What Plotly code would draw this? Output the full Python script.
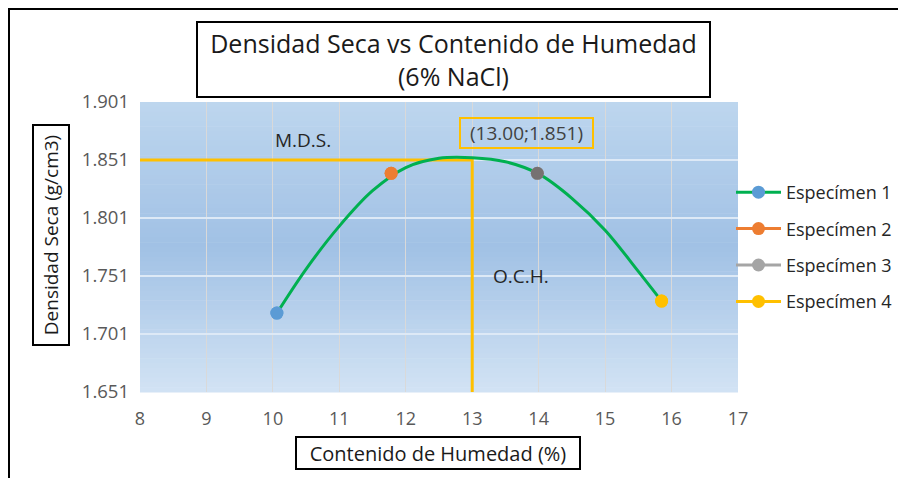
import plotly.graph_objects as go

# ---- data ----
specimen_names = ["Especímen 1", "Especímen 2", "Especímen 3", "Especímen 4"]
specimen_x = [10.06, 11.78, 13.98, 15.85]
specimen_y = [1.719, 1.8395, 1.8395, 1.7294]
specimen_colors = ["#5b9bd5", "#ed7d31", "#767171", "#ffc000"]
legend_marker_colors = ["#5b9bd5", "#ed7d31", "#a5a5a5", "#ffc000"]
legend_line_colors = ["#00b050", "#ed7d31", "#a5a5a5", "#ffc000"]

curve_x = [10.06, 10.5, 11.0, 11.5, 12.0, 12.5, 13.0, 13.5, 14.0, 14.5, 15.0, 15.5, 15.85]
curve_y = [1.719, 1.757, 1.794, 1.8245, 1.8445, 1.8525, 1.853, 1.8495, 1.839, 1.818, 1.7905, 1.755, 1.7294]

mds_x = [8, 13.0, 13.0]
mds_y = [1.851, 1.851, 1.651]

x_ticks = [8, 9, 10, 11, 12, 13, 14, 15, 16, 17]
y_ticks = [1.651, 1.701, 1.751, 1.801, 1.851, 1.901]
y_ticklabels = ["1.651", "1.701", "1.751", "1.801", "1.851", "1.901"]

FONT = "Open Sans"
W, H = 898, 478
L, R, T, B = 140, 160, 102, 86
PW, PH = W - L - R, H - T - B


def px(x):
    return (x - L) / PW


def py(y):
    return (H - B - y) / PH


fig = go.Figure()

# yellow M.D.S. / O.C.H. guide lines
fig.add_trace(go.Scatter(x=mds_x, y=mds_y, mode="lines",
                         line=dict(color="#ffc000", width=3),
                         showlegend=False, hoverinfo="skip"))

# smooth green curve
fig.add_trace(go.Scatter(x=curve_x, y=curve_y, mode="lines", line_shape="spline",
                         line=dict(color="#00b050", width=3),
                         showlegend=False, hoverinfo="skip"))

# specimen markers (one trace each, legend shows line + marker)
for i, name in enumerate(specimen_names):
    fig.add_trace(go.Scatter(
        x=[specimen_x[i]], y=[specimen_y[i]], mode="lines+markers", name=name,
        legendgroup=name,
        marker=dict(color=legend_marker_colors[i], size=13),
        line=dict(color=legend_line_colors[i], width=3),
        showlegend=True))
fig.add_trace(go.Scatter(x=specimen_x, y=specimen_y, mode="markers",
                         marker=dict(color=specimen_colors, size=13),
                         showlegend=False, hoverinfo="skip"))

# gradient background of plot area
shapes = []
top = (0xbd, 0xd6, 0xee)
mid = (0xa1, 0xc1, 0xe5)
bot = (0xd2, 0xe3, 0xf4)
N = 60
for k in range(N):
    t = (k + 0.5) / N  # 0 at top
    if t < 0.5:
        a, b, f = top, mid, t / 0.5
    else:
        a, b, f = mid, bot, (t - 0.5) / 0.5
    c = tuple(round(a[j] + (b[j] - a[j]) * f) for j in range(3))
    shapes.append(dict(type="rect", xref="x domain", yref="y domain",
                       x0=0, x1=1, y0=1 - (k + 1) / N - 0.002, y1=1 - k / N,
                       fillcolor="rgb(%d,%d,%d)" % c, line=dict(width=0),
                       layer="below"))
# outer frame
shapes.append(dict(type="rect", xref="paper", yref="paper",
                   x0=px(9), x1=px(910), y0=py(490), y1=py(9),
                   line=dict(color="black", width=2), fillcolor="rgba(0,0,0,0)"))

annotations = [
    dict(text="Densidad Seca vs Contenido de Humedad<br>(6% NaCl)",
         xref="paper", yref="paper", x=px(453.5), y=py(59.5),
         xanchor="center", yanchor="middle", showarrow=False,
         width=509, height=71, borderpad=1, bordercolor="black", borderwidth=2,
         font=dict(family=FONT, size=25, color="#1a1a1a")),
    dict(text="Densidad Seca (g/cm3)", textangle=-90,
         xref="paper", yref="paper", x=px(51), y=py(235),
         xanchor="center", yanchor="middle", showarrow=False,
         width=216, height=32, borderpad=1, bordercolor="black", borderwidth=2,
         font=dict(family=FONT, size=19, color="#1a1a1a")),
    dict(text="Contenido de Humedad (%)",
         xref="paper", yref="paper", x=px(438), y=py(452.5),
         xanchor="center", yanchor="middle", showarrow=False,
         width=280, height=28, borderpad=1, bordercolor="black", borderwidth=2,
         font=dict(family=FONT, size=20, color="#1a1a1a")),
    dict(text="(13.00;1.851)",
         xref="paper", yref="paper", x=px(526.5), y=py(133),
         xanchor="center", yanchor="middle", showarrow=False,
         width=129, height=26, borderpad=1, bordercolor="#ffc000", borderwidth=2,
         font=dict(family=FONT, size=19, color="#404040")),
    dict(text="M.D.S.", xref="paper", yref="paper", x=px(303), y=py(140),
         xanchor="center", yanchor="middle", showarrow=False,
         font=dict(family=FONT, size=19, color="#262626")),
    dict(text="O.C.H.", xref="paper", yref="paper", x=px(521), y=py(276),
         xanchor="center", yanchor="middle", showarrow=False,
         font=dict(family=FONT, size=19, color="#262626")),
]

fig.update_layout(
    width=W, height=H,
    margin=dict(l=L, r=R, t=T, b=B, autoexpand=False),
    paper_bgcolor="white", plot_bgcolor="rgba(0,0,0,0)",
    font=dict(family=FONT, size=18, color="#595959"),
    shapes=shapes, annotations=annotations,
    showlegend=True,
    legend=dict(x=px(731), y=py(174), xanchor="left", yanchor="top",
                traceorder="grouped", tracegroupgap=10, itemwidth=45,
                bgcolor="rgba(0,0,0,0)",
                font=dict(family=FONT, size=18, color="#262626")),
    xaxis=dict(range=[8, 17], tickvals=x_ticks, showgrid=True,
               gridcolor="#d9d9d9", gridwidth=1, zeroline=False,
               showline=False, ticks="", ticklabelstandoff=14,
               tickfont=dict(size=18, color="#595959")),
    yaxis=dict(range=[1.651, 1.901], tickvals=y_ticks, ticktext=y_ticklabels,
               showgrid=True, gridcolor="#dde9f6", gridwidth=1.5, zeroline=False,
               showline=False, ticks="", ticklabelstandoff=10,
               tickfont=dict(size=18.5, color="#595959")),
)

fig.write_html("out.html", config={"displayModeBar": False},
               post_script="document.body.style.margin='0';document.body.style.overflow='hidden';")
